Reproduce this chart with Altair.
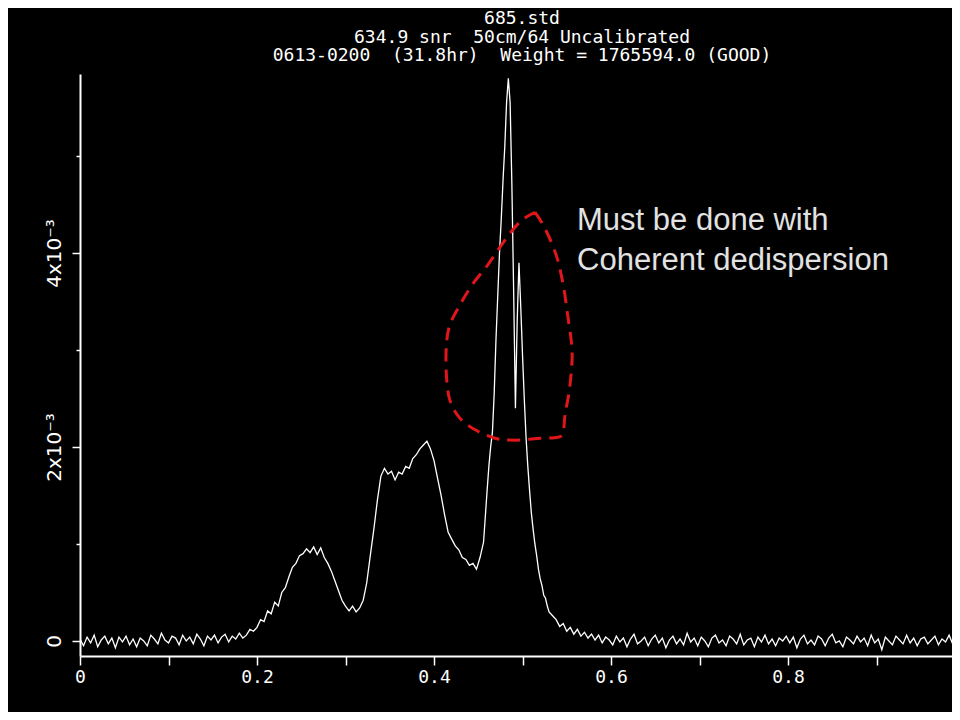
import altair as alt
import pandas as pd

# ---- pulse profile (flux in units of 1e-3), piecewise uniform phase bins ----
seg_a_start, seg_a_step = 0.000, 0.004
seg_a = [0.02, -0.05, 0.04, -0.02, 0.06, -0.06, 0.01, 0.05, -0.03, 0.03,
         -0.07, 0.04, -0.01, 0.05, -0.04, 0.02, -0.06, 0.03, 0.00, -0.05,
         0.06, 0.02, -0.03, 0.08, 0.01, -0.02, 0.05, 0.03, -0.04, 0.06,
         0.00, 0.04, -0.03, 0.07, 0.02, -0.05, 0.05, 0.01, 0.06, -0.02,
         0.04, 0.07, -0.01, 0.05, 0.02, 0.08, 0.03, 0.06, 0.12, 0.10]

seg_b_start, seg_b_step = 0.200, 0.004
seg_b = [0.14, 0.22, 0.20, 0.31, 0.28, 0.40, 0.36, 0.50, 0.55, 0.66,
         0.76, 0.80, 0.88, 0.90, 0.95, 0.91, 0.97, 0.89, 0.96, 0.86,
         0.80, 0.72, 0.62, 0.52, 0.42, 0.36, 0.31, 0.36, 0.30, 0.34,
         0.42, 0.60, 0.88, 1.15, 1.45, 1.70, 1.78, 1.72, 1.75, 1.66,
         1.74, 1.72, 1.80, 1.78, 1.88, 1.92, 1.98, 2.02, 2.06, 1.98,
         1.86, 1.68, 1.50, 1.30, 1.12, 1.05, 0.98, 0.94, 0.86, 0.84,
         0.78, 0.80, 0.74, 0.86, 1.02]

seg_c_start, seg_c_step = 0.460, 0.002
seg_c = [1.55, 1.80, 2.00, 2.15, 2.55, 3.10, 3.55, 4.00, 4.35, 4.75,
         5.10, 5.55, 5.80, 5.55, 4.70, 3.60, 2.40, 3.30, 3.90, 3.45,
         2.95, 2.50, 2.10, 1.80, 1.55, 1.32, 1.15, 1.00, 0.88, 0.74,
         0.64, 0.57, 0.47, 0.44, 0.36]

seg_d_start, seg_d_step = 0.530, 0.004
seg_d = [0.30, 0.26, 0.22, 0.15, 0.18, 0.10, 0.14, 0.07, 0.12, 0.05,
         0.09, 0.03, 0.07, 0.01, 0.06, -0.02, 0.04,
         0.01, -0.04, 0.05, -0.01, 0.03, -0.06, 0.02, 0.07, -0.03, 0.00,
         0.04, -0.05, 0.02, 0.06, -0.02, 0.03, -0.07, 0.01, 0.05, -0.03,
         0.02, -0.04, 0.08, -0.01, 0.03, -0.05, 0.04, 0.00, -0.06, 0.03,
         0.06, -0.02, 0.01, -0.05, 0.05, 0.02, -0.03, 0.07, -0.04, 0.01,
         0.03, -0.06, 0.04, -0.01, 0.06, -0.03, 0.02, -0.05, 0.03, 0.00,
         0.05, -0.02, 0.04, -0.07, 0.02, 0.06, -0.03, 0.01, -0.04, 0.05,
         0.02, -0.05, 0.03, 0.07, -0.02, 0.00, -0.06, 0.04, 0.01, -0.03,
         0.05, -0.01, 0.03, -0.05, 0.06, -0.02, 0.02, -0.09, 0.04, 0.00,
         -0.04, 0.05, 0.01, -0.03, 0.06, -0.02, 0.03, -0.05, 0.02, 0.04,
         -0.03, 0.01, 0.05, -0.04, 0.02, -0.01, 0.06, -0.03, 0.03]

# ---- red dashed loop (phase, flux in 1e-3) ----
loop_phase = [0.514, 0.525, 0.538, 0.546, 0.551, 0.555, 0.556, 0.553, 0.548,
              0.546, 0.540, 0.520, 0.492, 0.469, 0.446, 0.429, 0.418, 0.414,
              0.414, 0.418, 0.429, 0.443, 0.461, 0.480, 0.497, 0.514]
loop_flux = [4.42, 4.26, 3.98, 3.67, 3.36, 3.10, 2.90, 2.59, 2.33,
             2.15, 2.10, 2.09, 2.07, 2.09, 2.18, 2.30, 2.48, 2.74,
             3.05, 3.26, 3.46, 3.67, 3.88, 4.13, 4.32, 4.42]

# ---- annotation ----
note_lines = ["Must be done with", "Coherent dedispersion"]
note_phase = [0.5616, 0.5616]
note_flux = [4.33, 3.92]

title_lines = ["685.std",
               "634.9 snr\u00a0\u00a050cm/64 Uncalibrated",
               "0613-0200\u00a0\u00a0(31.8hr)\u00a0\u00a0Weight = 1765594.0 (GOOD)"]

x_ticks = [0.0, 0.1, 0.2, 0.3, 0.4, 0.5, 0.6, 0.7, 0.8, 0.9]
y_ticks = [0, 1, 2, 3, 4, 5]

# build table
phase, flux = [], []
for start, step, vals in [(seg_a_start, seg_a_step, seg_a),
                          (seg_b_start, seg_b_step, seg_b),
                          (seg_c_start, seg_c_step, seg_c),
                          (seg_d_start, seg_d_step, seg_d)]:
    for i, v in enumerate(vals):
        phase.append(round(start + i * step, 4))
        flux.append(v)
profile = pd.DataFrame({"phase": phase, "flux": flux})
loop = pd.DataFrame({"phase": loop_phase, "flux": loop_flux,
                     "order": list(range(len(loop_phase)))})
notes = pd.DataFrame({"phase": note_phase, "flux": note_flux, "text": note_lines})

FONT = "DejaVu Sans Mono"
FG = "#ffffff"

x_scale = alt.Scale(domain=[0, 0.9853], nice=False, zero=False)
y_scale = alt.Scale(domain=[-0.155, 5.845], nice=False, zero=False)

x_axis = alt.Axis(values=x_ticks, format="~g", title=None, grid=False,
                  labelExpr="round(datum.value*10) % 2 == 0 ? datum.label : ''",
                  tickSize=9, tickWidth=1.5, tickColor=FG,
                  domainColor=FG, domainWidth=2,
                  labelColor=FG, labelFont=FONT, labelFontSize=18,
                  labelPadding=3, labelFlush=False)
y_axis = alt.Axis(values=y_ticks, title=None, grid=False,
                  labelExpr="datum.value == 0 ? '0' : (datum.value % 2 == 0 ? datum.value + 'x10\u207b\u00b3' : '')",
                  labelAngle=270, labelAlign="center", labelBaseline="bottom",
                  tickSize={"condition": {"test": "datum.value % 2 == 0", "value": 8}, "value": 4},
                  tickWidth=1.5, tickColor=FG,
                  domainColor=FG, domainWidth=2,
                  labelColor=FG, labelFont="DejaVu Sans", labelFontSize=20,
                  labelPadding=8, labelFlush=False)

line = alt.Chart(profile).mark_line(color="white", strokeWidth=1.3, clip=True).encode(
    x=alt.X("phase:Q", scale=x_scale, axis=x_axis),
    y=alt.Y("flux:Q", scale=y_scale, axis=y_axis),
)

loop_layer = alt.Chart(loop).mark_line(color="#e0161b", strokeWidth=3,
                                       strokeDash=[13, 8], interpolate="cardinal").encode(
    x=alt.X("phase:Q", scale=x_scale),
    y=alt.Y("flux:Q", scale=y_scale),
    order=alt.Order("order:Q"),
)

text_layer = alt.Chart(notes).mark_text(align="left", baseline="middle",
                                        font="Liberation Sans", fontSize=31,
                                        color="#e2e2e2").encode(
    x=alt.X("phase:Q", scale=x_scale),
    y=alt.Y("flux:Q", scale=y_scale),
    text="text:N",
)

chart = alt.layer(line, loop_layer, text_layer).properties(
    width=872, height=582,
    autosize=alt.AutoSizeParams(type="none"),
    padding={"left": 72, "top": 66, "right": 0, "bottom": 56},
    background="black",
    title=alt.Title(text=title_lines, color=FG, font=FONT, fontSize=18,
                    fontWeight="normal", lineHeight=18.5, anchor="middle",
                    dx=6, offset=9),
).configure_view(stroke=None)

chart.save("out.html", embed_options={"renderer": "svg", "actions": False})
